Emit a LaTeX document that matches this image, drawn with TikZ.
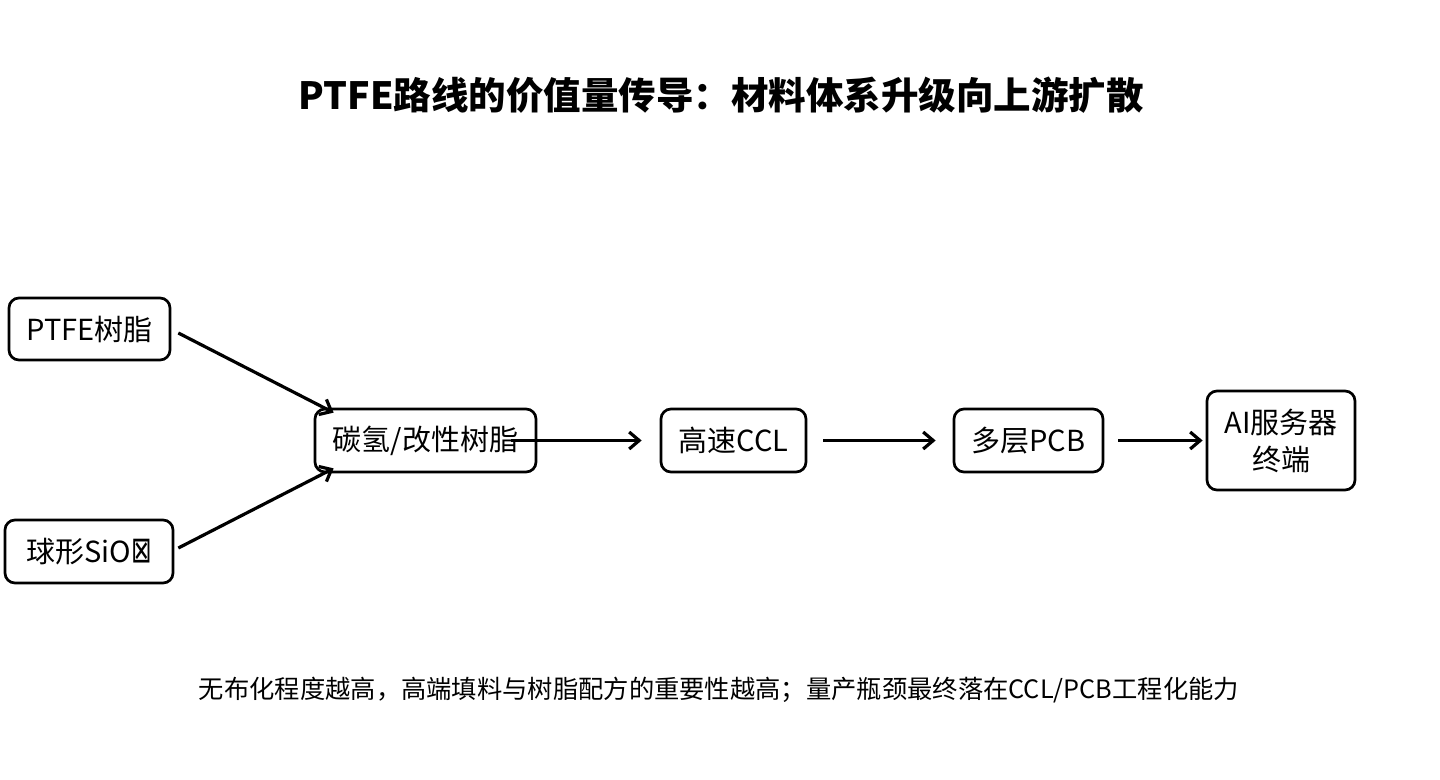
\documentclass[tikz,border=0pt]{standalone}
\usepackage{fontspec}
\setmainfont{Noto Sans CJK SC}
\newfontfamily\symfont{DejaVu Sans}
\usetikzlibrary{arrows.meta,calc}
\tikzset{
  box/.style={draw=black, line width=2.7pt, rounded corners=10pt, fill=white,
    inner sep=0pt, align=center, font=\fontsize{29}{37}\selectfont},
  conn/.style={line width=3.2pt, -{Straight Barb[length=10pt,width=17pt,line width=3.2pt]}},
}
\begin{document}
\begin{tikzpicture}[x=1pt,y=-1pt]
\useasboundingbox[fill=white] (0,0) rectangle (1440,779);
\node[font=\fontsize{37.5}{40}\selectfont\bfseries] (title) at (721,95) {PTFE路线的价值量传导：材料体系升级向上游扩散};
\node[box, minimum width=161pt, minimum height=62pt] (ptfe) at (89.5,329) {PTFE树脂};
\node[box, minimum width=168pt, minimum height=63pt] (sio) at (89,551.5) {球形SiO{\symfont\scalebox{0.85}[1.25]{⊠}}};
\node[box, minimum width=221pt, minimum height=63pt] (resin) at (425.5,440.5) {碳氢/改性树脂};
\node[box, minimum width=145pt, minimum height=63pt] (ccl) at (733.5,440.5) {高速CCL};
\node[box, minimum width=149pt, minimum height=63pt] (pcb) at (1028.5,440.5) {多层PCB};
\node[box, minimum width=148pt, minimum height=99pt] (ai) at (1281,440.5) {AI服务器\\终端};
\draw[conn] ($(ptfe.east)+(7,4)$) -- ($(resin.north west)+(20,5)$);
\draw[conn] ($(sio.east)+(4,-3.5)$) -- ($(resin.south west)+(20,-5)$);
\draw[conn] ($(resin.east)+(-26,0)$) -- ($(ccl.west)+(-18,0)$);
\draw[conn] ($(ccl.east)+(16,0)$) -- ($(pcb.west)+(-17,0)$);
\draw[conn] ($(pcb.east)+(14,0)$) -- ($(ai.west)+(-3,0)$);
\node[font=\fontsize{25.3}{28}\selectfont] (foot) at (719,690) {无布化程度越高，高端填料与树脂配方的重要性越高；量产瓶颈最终落在CCL/PCB工程化能力};
\end{tikzpicture}
\end{document}
